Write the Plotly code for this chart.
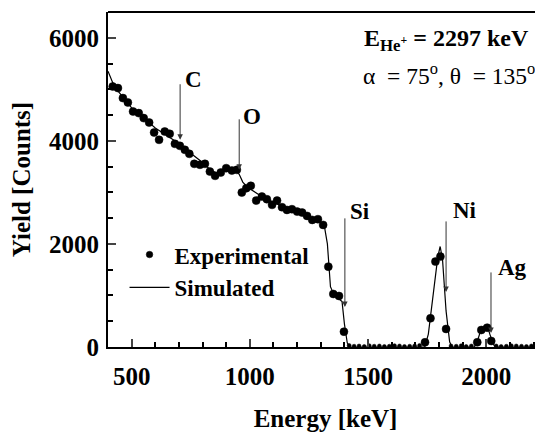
import plotly.graph_objects as go

# Experimental data (energy in keV, yield in counts)
exp_energy = [420, 442, 463, 484, 506, 530, 551, 574, 595, 616, 640, 661, 683, 704, 725, 744,
              765, 789, 810, 831, 853, 877, 900, 924, 945, 966, 985, 1004, 1027, 1051, 1072,
              1094, 1115, 1136, 1157, 1178, 1200, 1221, 1242, 1264, 1288, 1310, 1332, 1353,
              1377, 1398,
              1420, 1441, 1462, 1484, 1505, 1526, 1548, 1569, 1590, 1612, 1633, 1654, 1676,
              1697, 1718,
              1741, 1764, 1785, 1806, 1830,
              1851, 1873, 1894, 1915, 1937,
              1962, 1979, 2004, 2021,
              2042, 2063, 2085, 2106, 2127, 2149, 2170, 2191, 2212, 2233]
exp_counts = [5055, 5024, 4830, 4745, 4570, 4538, 4441, 4356, 4162, 4020, 4181, 4136, 3942, 3903,
              3826, 3748, 3554, 3535, 3554, 3404, 3321, 3385, 3470, 3424, 3437, 2997, 3082, 3127,
              2841, 2919, 2868, 2758, 2841, 2713, 2660, 2674, 2627, 2608, 2544, 2466, 2480, 2369,
              1559, 1029, 990, 297,
              30, 15, 20, 10, 25, 15, 20, 10, 15, 25, 20, 10, 15, 20, 30,
              91, 557, 1657, 1754, 350,
              20, 15, 25, 10, 20,
              91, 330, 375, 117,
              20, 10, 15, 25, 20, 15, 10, 20, 15, 10]

# Simulated spectrum
sim_energy = [400, 420, 440, 470, 500, 550, 600, 650, 700, 750, 800, 830, 860, 900, 940, 955,
              970, 990, 1050, 1100, 1150, 1200, 1250, 1300, 1315, 1328, 1341, 1356, 1375, 1390,
              1400, 1412, 1422, 1740, 1755, 1775, 1795, 1805, 1815, 1830, 1845, 1855, 1950, 1965,
              1980, 1995, 2005, 2015, 2030, 2040, 2240]
sim_counts = [5350, 5130, 4980, 4800, 4640, 4450, 4250, 4100, 3950, 3760, 3580, 3450, 3370, 3420,
              3420, 3350, 3200, 3100, 2920, 2810, 2700, 2630, 2530, 2420, 2350, 2000, 1170, 1010,
              940, 880, 450, 80, 0, 0, 250, 1000, 1750, 1950, 1700, 700, 100, 0, 0, 150,
              370, 420, 400, 250, 50, 0, 0]

# Element markers: label, arrow head (energy, counts), arrow tail counts, label position
elem_labels = ["C", "O", "Si", "Ni", "Ag"]
elem_energy = [705, 955, 1402, 1830, 2020]
elem_head = [4020, 3437, 777, 1068, 272]
elem_tail = [5127, 4447, 2525, 2466, 1476]
label_energy = [718, 963, 1416, 1851, 2042]
label_counts = [5190, 4470, 2630, 2645, 1540]

FONT = "Times New Roman, Liberation Serif, serif"

fig = go.Figure()
fig.add_trace(go.Scatter(
    x=sim_energy, y=sim_counts, mode="lines", name="<b>Simulated</b>",
    line=dict(color="black", width=1.2), legendrank=2))
fig.add_trace(go.Scatter(
    x=exp_energy, y=exp_counts, mode="markers", name="<b>Experimental</b>",
    marker=dict(color="black", opacity=1, size=[8 if c > 60 else 4 for c in exp_counts],
                symbol="circle", line=dict(color="black", width=0.5)),
    legendrank=1))

annotations = []
for lab, e, h, t, le, lc in zip(elem_labels, elem_energy, elem_head, elem_tail, label_energy, label_counts):
    annotations.append(dict(
        x=e, y=h, ax=e, ay=t, xref="x", yref="y", axref="x", ayref="y",
        text="", showarrow=True, arrowhead=2, arrowsize=1.1, arrowwidth=1, arrowcolor="#333"))
    annotations.append(dict(
        x=le, y=lc, xref="x", yref="y", text="<b>%s</b>" % lab, showarrow=False,
        xanchor="left", yanchor="middle", font=dict(family=FONT, size=23, color="black")))

annotations.append(dict(
    x=0.583, y=0.915, xref="paper", yref="paper", xanchor="left", yanchor="middle",
    text="<b>E<sub>He<sup>+</sup></sub> = 2297 keV</b>", showarrow=False,
    font=dict(family=FONT, size=24, color="black")))
annotations.append(dict(
    x=0.581, y=0.815, xref="paper", yref="paper", xanchor="left", yanchor="middle",
    text="α  = 75<sup>o</sup>, θ  = 135<sup>o</sup>", showarrow=False,
    font=dict(family=FONT, size=23.5, color="black")))

fig.update_layout(
    width=535, height=424,
    margin=dict(l=100, r=0, t=4, b=85),
    paper_bgcolor="white", plot_bgcolor="white",
    font=dict(family=FONT, color="black"),
    showlegend=True,
    legend=dict(x=0.038, y=0.34, xanchor="left", yanchor="top",
                bgcolor="rgba(0,0,0,0)", font=dict(family=FONT, size=23, color="black"),
                itemwidth=40, tracegroupgap=0),
    annotations=annotations,
    xaxis=dict(range=[400, 2240], tick0=500, dtick=500, ticks="inside", ticklen=8,
               tickwidth=1.5, showline=True, linecolor="black", linewidth=2, mirror=False,
               showgrid=False, zeroline=False, ticklabelstandoff=6,
               tickfont=dict(family=FONT, size=25, color="black"),
               minor=dict(dtick=100, ticks="inside", ticklen=5, tickcolor="black"),
               title=dict(text="<b>Energy [keV]</b>", font=dict(family=FONT, size=25), standoff=24)),
    yaxis=dict(range=[0, 6500], tick0=0, dtick=2000, ticks="inside", ticklen=8,
               tickwidth=1.5, showline=True, linecolor="black", linewidth=2,
               showgrid=False, zeroline=False, ticklabelstandoff=2,
               tickfont=dict(family=FONT, size=25, color="black"),
               minor=dict(dtick=500, ticks="inside", ticklen=5, tickcolor="black"),
               title=dict(text="<b>Yield [Counts]</b>", font=dict(family=FONT, size=25), standoff=17)),
)
fig.update_xaxes(tickprefix="<b>", ticksuffix="</b>")
fig.update_yaxes(tickprefix="<b>", ticksuffix="</b>")
# top border line
fig.add_shape(type="line", xref="paper", yref="paper", x0=0, x1=1, y0=1, y1=1,
              line=dict(color="black", width=2))

fig.write_html("out.html")
